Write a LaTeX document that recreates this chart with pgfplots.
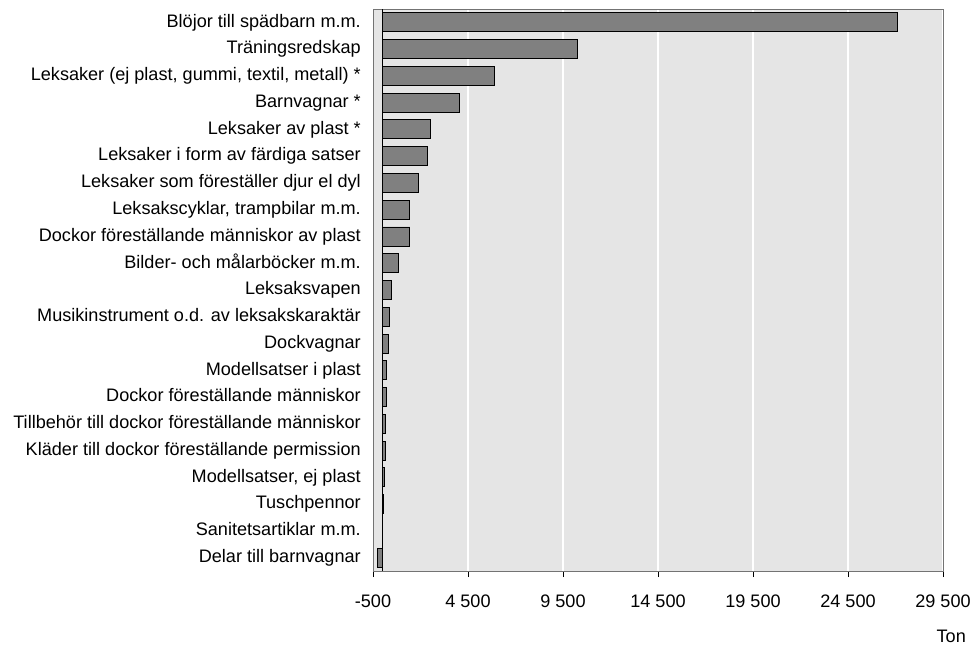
\documentclass[border=0pt]{standalone}
\usepackage{pgfplots}
\pgfplotsset{compat=1.18}
\usepackage{fontspec}
\setmainfont{Liberation Sans}
\definecolor{bg}{HTML}{E5E5E5}
\definecolor{barc}{HTML}{808080}
\begin{document}
\fontsize{18.1}{22}\selectfont
\begin{tikzpicture}
\begin{axis}[
  name=ax,
  scale only axis,
  width=570pt, height=562pt,
  xmin=-500, xmax=29500,
  ymin=0.5, ymax=21.5,
  y dir=reverse,
  xbar, bar width=19pt,
  axis background/.style={fill=bg},
  axis line style={draw=black!55, line width=0.8pt},
  scaled x ticks=false,
  xtick={-500,4500,9500,14500,19500,24500,29500},
  xticklabels={-500,4 500,9 500,14 500,19 500,24 500,29 500},
  xtick pos=bottom,
  xtick align=outside,
  major tick length=6pt,
  tick style={black, line width=0.8pt},
  xmajorgrids,
  major grid style={white, line width=1.6pt},
  xticklabel style={font=\fontsize{18.1}{22}\selectfont, text height=0.72em, text depth=0pt, yshift=-11pt},
  ytick={1,...,21},
  ytick style={draw=none},
  yticklabel style={font=\fontsize{18.1}{22}\selectfont, text height=0.75em, text depth=0.22em},
  yticklabels={
    Blöjor till spädbarn m.m.,
    Träningsredskap,
    {Leksaker (ej plast, gummi, textil, metall) *},
    Barnvagnar *,
    Leksaker av plast *,
    Leksaker i form av färdiga satser,
    Leksaker som föreställer djur el dyl,
    {Leksakscyklar, trampbilar m.m.},
    Dockor föreställande människor av plast,
    Bilder- och målarböcker m.m.,
    Leksaksvapen,
    Musikinstrument o.d. av leksakskaraktär,
    Dockvagnar,
    Modellsatser i plast,
    Dockor föreställande människor,
    Tillbehör till dockor föreställande människor,
    Kläder till dockor föreställande permission,
    {Modellsatser, ej plast},
    Tuschpennor,
    Sanitetsartiklar m.m.,
    Delar till barnvagnar},
  extra x ticks={0},
  extra x tick labels={},
  extra x tick style={grid=major, major grid style={black, line width=0.8pt}, tick style={draw=none}},
  /pgf/number format/assume math mode=true,
  clip=false,
]
\addplot[fill=barc, draw=black, line width=0.9pt] coordinates {
  (27080,1) (10250,2) (5890,3) (4076,4) (2510,5) (2373,6) (1877,7)
  (1424,8) (1440,9) (834,10) (449,11) (344,12) (327,13) (222,14)
  (185,15) (150,16) (133,17) (80,18) (60,19) (5,20) (-280,21)
};
\end{axis}
\node[anchor=north east, inner sep=0pt] at ([xshift=23pt,yshift=-59pt]ax.south east) {Ton};
\pgfresetboundingbox
\path[use as bounding box] ([xshift=-373pt,yshift=-76pt]ax.south west) rectangle ([xshift=29pt,yshift=9pt]ax.north east);
\end{tikzpicture}
\end{document}
